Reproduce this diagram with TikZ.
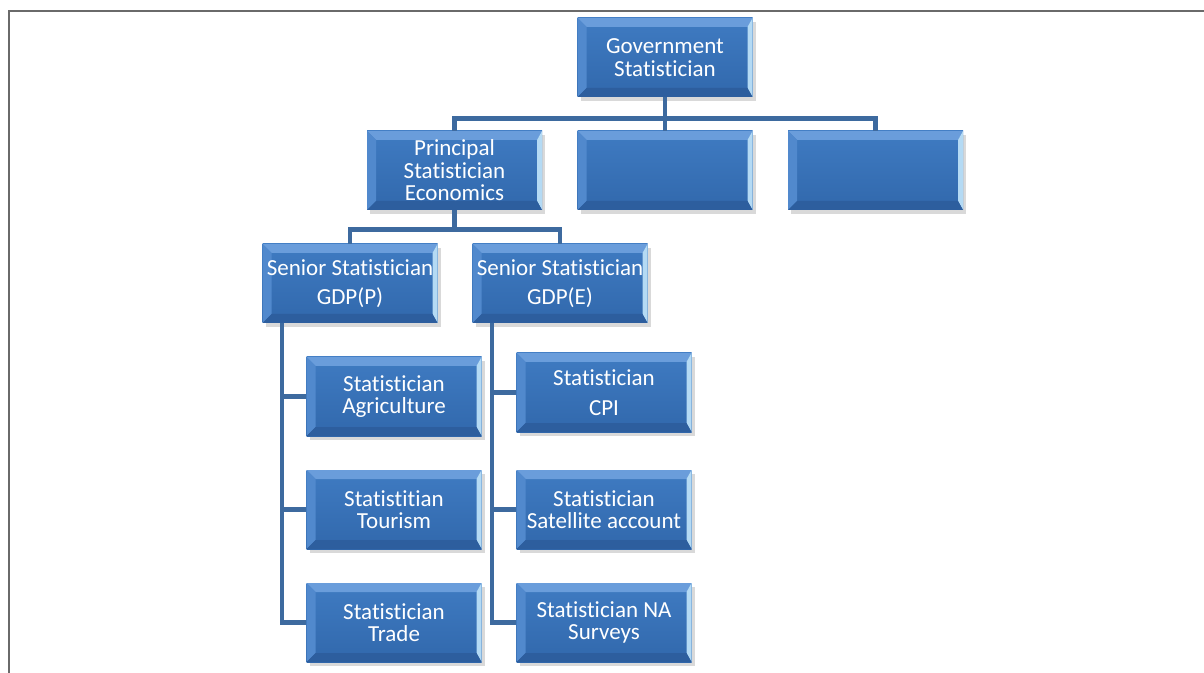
\documentclass[tikz,border=0pt]{standalone}
\usepackage{fontspec}
\setmainfont{Carlito}[Ligatures={NoCommon}]
\usetikzlibrary{positioning, shadows}
\definecolor{facetop}{HTML}{3F7BC2}
\definecolor{facebot}{HTML}{3168AC}
\definecolor{bevtop}{HTML}{6A9DDB}
\definecolor{bevleft}{HTML}{5189CD}
\definecolor{bevright}{HTML}{B4DAF4}
\definecolor{bevbot}{HTML}{2D5E9E}
\definecolor{linkblue}{HTML}{3D6A9F}
\definecolor{framegrey}{HTML}{6A6A6A}
\tikzstyle{orgbox} = [
    rectangle,
    minimum width=87.5pt,
    minimum height=39.5pt,
    inner sep=0pt,
    align=center,
    text=white,
    font=\fontsize{11.5}{11.2}\selectfont,
    top color=facetop,
    bottom color=facebot,
    drop shadow={opacity=0.3, shadow xshift=1.5pt, shadow yshift=-2pt},
    path picture={
        \path (path picture bounding box.north west) coordinate (bnw)
              (path picture bounding box.south east) coordinate (bse);
        \fill[bevtop] (bnw) -- (bnw -| bse) -- ([shift={(-2.5pt,-4.5pt)}]bnw -| bse)
            -- ([shift={(4.5pt,-4.5pt)}]bnw) -- cycle;
        \fill[bevleft] (bnw) -- ([shift={(4.5pt,-4.5pt)}]bnw)
            -- ([shift={(4.5pt,4.5pt)}]bnw |- bse) -- (bnw |- bse) -- cycle;
        \fill[bevright] (bnw -| bse) -- (bse) -- ([shift={(-2.5pt,4.5pt)}]bse)
            -- ([shift={(-2.5pt,-4.5pt)}]bnw -| bse) -- cycle;
        \fill[bevbot] (bnw |- bse) -- ([shift={(4.5pt,4.5pt)}]bnw |- bse)
            -- ([shift={(-2.5pt,4.5pt)}]bse) -- (bse) -- cycle;
    }
]
\tikzstyle{link} = [linkblue, line width=2.2pt]

\begin{document}
\begin{tikzpicture}[x=0.5pt, y=-0.5pt, node distance=56.5pt]
\useasboundingbox (0,0) rectangle (1204,673);
\draw [framegrey, line width=1.2pt] (9,673) -- (9,11) -- (1204,11);

\node (gov) [orgbox] at (665,57.5) {Government\\Statistician};

\node (prin) [orgbox, below of=gov, xshift=-105.25pt]
{Principal\\Statistician\\Economics};
\node (post2) [orgbox, below of=gov] {};
\node (post3) [orgbox, below of=gov, xshift=105.25pt] {};

\node (senp) [orgbox, below of=prin, xshift=-52.25pt]
{Senior Statistician\\[3.5pt]GDP(P)};
\node (sene) [orgbox, below of=prin, xshift=52.75pt]
{Senior Statistician\\[3.5pt]GDP(E)};

\node (agri) [orgbox, below of=senp, xshift=22pt]
{Statistician\\Agriculture};
\node (tour) [orgbox, below of=agri]
{Statistitian\\Tourism};
\node (trade) [orgbox, below of=tour]
{Statistician\\Trade};

\node (cpi) [orgbox, below of=sene, xshift=22pt, yshift=2pt]
{Statistician\\[3.5pt]CPI};
\node (satacc) [orgbox, below of=cpi, yshift=-2pt]
{Statistician\\Satellite account};
\node (nasurv) [orgbox, below of=satacc]
{Statistician NA\\Surveys};

\draw [link] (gov.south) -- ++(0,21) -| (prin.north);
\draw [link] (gov.south) -- (post2.north);
\draw [link] (gov.south) -- ++(0,21) -| (post3.north);
\draw [link] (prin.south) -- ++(0,19) -| (senp.north);
\draw [link] (prin.south) -- ++(0,19) -| (sene.north);
\draw [link] ([xshift=10pt]senp.south west) |- (agri.west);
\draw [link] ([xshift=10pt]senp.south west) |- (tour.west);
\draw [link] ([xshift=10pt]senp.south west) |- (trade.west);
\draw [link] ([xshift=10pt]sene.south west) |- (cpi.west);
\draw [link] ([xshift=10pt]sene.south west) |- (satacc.west);
\draw [link] ([xshift=10pt]sene.south west) |- (nasurv.west);

\end{tikzpicture}
\end{document}
